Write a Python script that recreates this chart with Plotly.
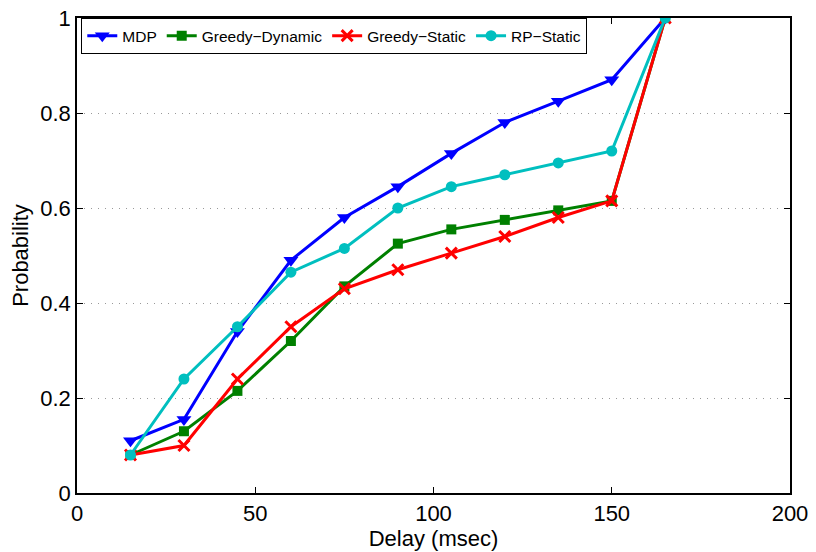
import plotly.graph_objects as go

delay = [15, 30, 45, 60, 75, 90, 105, 120, 135, 150, 165]
mdp = [0.11, 0.155, 0.34, 0.49, 0.58, 0.645, 0.715, 0.78, 0.825, 0.87, 1.0]
greedy_dynamic = [0.08, 0.13, 0.215, 0.32, 0.435, 0.525, 0.555, 0.575, 0.595, 0.615, 1.0]
greedy_static = [0.08, 0.10, 0.24, 0.35, 0.43, 0.47, 0.505, 0.54, 0.58, 0.615, 1.0]
rp_static = [0.08, 0.24, 0.35, 0.465, 0.515, 0.60, 0.645, 0.67, 0.695, 0.72, 1.0]

series = [
    ("MDP", mdp, "#0000ff", "triangle-down", 13),
    ("Greedy\u2212Dynamic", greedy_dynamic, "#008000", "square", 10),
    ("Greedy\u2212Static", greedy_static, "#ff0000", "x-thin", 11),
    ("RP\u2212Static", rp_static, "#00bfbf", "circle", 11),
]

fig = go.Figure()
for name, vals, color, sym, size in series:
    fig.add_trace(go.Scatter(
        x=delay, y=vals, name=name, mode="lines+markers",
        line=dict(color=color, width=3),
        marker=dict(symbol=sym, size=size, color=color,
                    line=dict(color=color, width=3 if sym == "x-thin" else 0)),
    ))

fam = "Liberation Sans, Arial, sans-serif"
fig.update_layout(
    width=816, height=552,
    margin=dict(l=77, r=26, t=18, b=59, autoexpand=False),
    paper_bgcolor="white", plot_bgcolor="white",
    font=dict(family=fam, size=22, color="black"),
    showlegend=True,
    legend=dict(
        orientation="h", x=0.006, y=0.962, xanchor="left", yanchor="middle",
        bgcolor="white", bordercolor="black", borderwidth=1,
        font=dict(family=fam, size=15.5, color="black"),
        itemwidth=30, tracegroupgap=0,
    ),
    xaxis=dict(
        range=[0, 200], tickvals=[0, 50, 100, 150, 200],
        showline=True, linecolor="black", linewidth=1.5, mirror="ticks",
        ticks="inside", ticklen=6, tickcolor="black",
        showgrid=False, zeroline=False, automargin=False,
        title=dict(text="Delay (msec)", font=dict(size=22), standoff=0),
        tickfont=dict(size=22),
    ),
    yaxis=dict(
        range=[0, 1], tickvals=[0, 0.2, 0.4, 0.6, 0.8, 1],
        ticktext=["0", "0.2", "0.4", "0.6", "0.8", "1"],
        showline=True, linecolor="black", linewidth=1.5, mirror="ticks",
        ticks="inside", ticklen=6, tickcolor="black",
        showgrid=True, gridcolor="#999999", griddash="1px,6px", gridwidth=1,
        zeroline=False, automargin=False,
        title=dict(text="Probability", font=dict(size=22), standoff=6),
        tickfont=dict(size=22),
    ),
)

fig.write_html("out.html")
